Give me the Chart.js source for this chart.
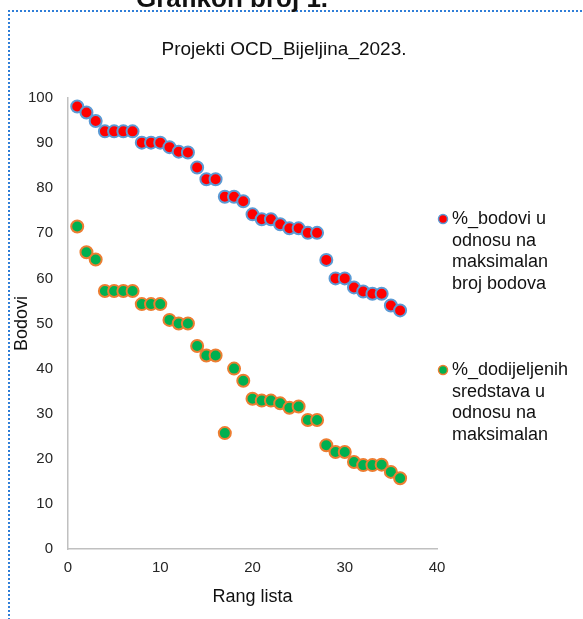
<!DOCTYPE html>
<html><head><meta charset="utf-8">
<script src="https://cdn.jsdelivr.net/npm/chart.js@4"></script>
<style>
html,body{margin:0;padding:0;background:#fff;overflow:hidden;}
#wrap{position:relative;width:583px;height:619px;overflow:hidden;}
#c{position:absolute;left:0;top:0;}
#frame{position:absolute;left:8px;top:10px;width:640px;height:700px;border-top:2px dotted #2f7ed8;border-left:2px dotted #2f7ed8;pointer-events:none;}
#pt{position:absolute;left:0;width:464px;top:-15px;text-align:center;font:bold 26px/26px "Liberation Sans",Arial,sans-serif;color:#111;white-space:nowrap;}
</style></head><body>
<div id="wrap"><canvas id="c" width="583" height="619"></canvas><div id="frame"></div><div id="pt"></div></div>
<script>
const pageTitle = "Grafikon broj 1.";
const chartTitle = "Projekti OCD_Bijeljina_2023.";
const xTitle = "Rang lista";
const yTitle = "Bodovi";
const rank = [1,2,3,4,5,6,7,8,9,10,11,12,13,14,15,16,17,18,19,20,21,22,23,24,25,26,27,28,29,30,31,32,33,34,35,36];
const bodovi = [98.1,96.8,94.9,92.6,92.6,92.6,92.6,90.1,90.1,90.1,89.1,88.1,87.9,84.6,82.0,82.0,78.1,78.1,77.1,74.2,73.1,73.1,72.0,71.1,71.1,70.1,70.1,64.1,60.0,60.0,58.0,57.1,56.6,56.6,54.0,52.9];
const sredstva = [71.5,65.8,64.2,57.2,57.2,57.2,57.2,54.3,54.3,54.3,50.8,50.0,50.0,45.0,42.9,42.9,25.7,40.0,37.3,33.3,32.9,32.9,32.3,31.3,31.6,28.6,28.6,23.0,21.5,21.5,19.3,18.6,18.6,18.7,17.1,15.7];
const legendBodovi = ["%_bodovi u","odnosu na","maksimalan","broj bodova"];
const legendSredstva = ["%_dodijeljenih","sredstava u","odnosu na","maksimalan"];
const xTicks = {min:0, max:40, step:10};
const yTicks = {min:0, max:100, step:10};

document.getElementById('pt').textContent = pageTitle;

const fontFam = '"Liberation Sans", Arial, sans-serif';
Chart.defaults.font.family = fontFam;
Chart.defaults.color = '#262626';

const sideLegend = {
  id:'sideLegend',
  afterDraw(chart){
    const ctx = chart.ctx, ca = chart.chartArea;
    ctx.save();
    ctx.font = '18px ' + fontFam;
    ctx.textBaseline = 'middle';
    ctx.textAlign = 'left';
    const entries = [{lines:legendBodovi, ds:0, y:ca.top+121},{lines:legendSredstva, ds:1, y:ca.top+272}];
    entries.forEach(e=>{
      const ds = chart.data.datasets[e.ds];
      ctx.beginPath();
      ctx.arc(ca.right+6, e.y, 4.5, 0, Math.PI*2);
      ctx.fillStyle = ds.backgroundColor; ctx.fill();
      ctx.lineWidth = 1.5; ctx.strokeStyle = ds.borderColor; ctx.stroke();
      ctx.fillStyle = '#111';
      e.lines.forEach((t,i)=>ctx.fillText(t, ca.right+15, e.y + i*21.6));
    });
    ctx.restore();
  }
};

new Chart(document.getElementById('c'), {
  type:'scatter',
  data:{datasets:[
    {label:legendBodovi.join(' '), data:rank.map((r,i)=>({x:r,y:bodovi[i]})),
     backgroundColor:'#ff0000', borderColor:'#5b9bd5', borderWidth:2, pointRadius:6, pointHoverRadius:6},
    {label:legendSredstva.join(' '), data:rank.map((r,i)=>({x:r,y:sredstva[i]})),
     backgroundColor:'#00b050', borderColor:'#ed7d31', borderWidth:2, pointRadius:6, pointHoverRadius:6}
  ]},
  options:{
    responsive:false, animation:false, devicePixelRatio:1,
    layout:{padding:{left:0,right:15,top:0,bottom:0}},
    plugins:{
      legend:{display:false}, tooltip:{enabled:false},
      title:{display:true, text:chartTitle, font:{size:19, weight:'normal'}, color:'#111', padding:{top:38.6,bottom:36.6}}
    },
    scales:{
      x:{type:'linear', min:xTicks.min, max:xTicks.max,
         ticks:{stepSize:xTicks.step, font:{size:15}, padding:10},
         grid:{display:false, drawTicks:false},
         border:{color:'#c0c0c0', width:1.5},
         title:{display:true, text:xTitle, font:{size:18}, color:'#111', padding:{top:0,bottom:11}},
         afterFit:s=>{s.height=70;}},
      y:{type:'linear', min:yTicks.min, max:yTicks.max,
         ticks:{stepSize:yTicks.step, font:{size:15}, padding:15},
         grid:{display:false, drawTicks:false},
         border:{color:'#c0c0c0', width:1.5},
         title:{display:true, text:yTitle, font:{size:18}, color:'#111', padding:{top:11,bottom:0}},
         afterFit:s=>{s.width=68;}},
      side:{axis:'y', type:'linear', position:'right', display:true,
         grid:{display:false, drawTicks:false}, ticks:{display:false}, border:{display:false},
         afterFit:s=>{s.width=131;}}
    }
  },
  plugins:[sideLegend]
});
</script>
</body></html>
